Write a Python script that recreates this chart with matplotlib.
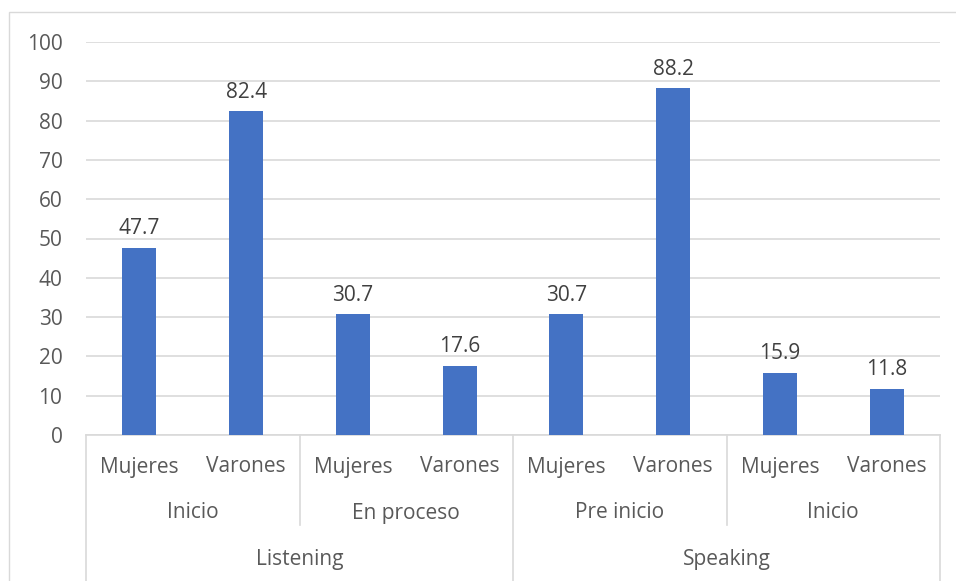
import matplotlib
matplotlib.use("Agg")
import matplotlib.pyplot as plt
from matplotlib.transforms import blended_transform_factory
from matplotlib.patches import Rectangle

genders = ["Mujeres", "Varones", "Mujeres", "Varones", "Mujeres", "Varones", "Mujeres", "Varones"]
levels = ["Inicio", "En proceso", "Pre inicio", "Inicio"]
skills = ["Listening", "Speaking"]
values = [47.7, 82.4, 30.7, 17.6, 30.7, 88.2, 15.9, 11.8]
yticks = [0, 10, 20, 30, 40, 50, 60, 70, 80, 90, 100]

plt.rcParams['font.family'] = ['Open Sans', 'DejaVu Sans']
W, H = 956, 581
fig = plt.figure(figsize=(W / 100, H / 100), dpi=100)
txt = "#595959"
grid = "#d9d9d9"
fs = 15

# outer chart border
fig.patches.append(Rectangle((9 / W, -0.01), 1.0, 1 - 12 / H + 0.01, transform=fig.transFigure,
                             fill=False, edgecolor=grid, linewidth=1.0))

left, right, top, bottom = 86, 940, 42, 435
ax = fig.add_axes([left / W, 1 - bottom / H, (right - left) / W, (bottom - top) / H])
x = list(range(len(values)))
ax.bar(x, values, width=0.32, color="#4472C4", zorder=3)
for xi, v in zip(x, values):
    ax.annotate(f"{v:.1f}", (xi, v), xytext=(0, 6), textcoords="offset points",
                ha="center", va="bottom", fontsize=fs, color="#404040")

ax.set_xlim(-0.5, len(values) - 0.5)
ax.set_ylim(0, 100)
ax.set_yticks(yticks)
ax.tick_params(axis="y", length=0, pad=17, labelsize=fs, labelcolor=txt)
ax.set_xticks([])
ax.yaxis.grid(True, color=grid, linewidth=1.2, zorder=0)
for s in ["top", "right", "left"]:
    ax.spines[s].set_visible(False)
ax.spines["bottom"].set_color(grid)
ax.spines["bottom"].set_linewidth(1.2)

tr = blended_transform_factory(ax.transData, ax.transAxes)
ph = bottom - top
y_mid = -(525 - bottom) / ph
y_bot = -(590 - bottom) / ph
n = len(values)
# separators
for i, bx in enumerate([-0.5 + 2 * k for k in range(n // 2 + 1)]):
    full = (i % 2 == 0)
    ax.plot([bx, bx], [0, y_bot if full else y_mid], transform=tr, color=grid,
            linewidth=1.2, clip_on=False)

y0 = -(467 - bottom) / ph
y1 = -(513 - bottom) / ph
y2 = -(560 - bottom) / ph
for xi, g in zip(x, genders):
    ax.text(xi, y0, g, transform=tr, ha="center", va="center", fontsize=fs, color=txt)
for k, lv in enumerate(levels):
    ax.text(2 * k + 0.5, y1, lv, transform=tr, ha="center", va="center", fontsize=fs, color=txt)
for k, sk in enumerate(skills):
    ax.text(4 * k + 1.5, y2, sk, transform=tr, ha="center", va="center", fontsize=fs, color=txt)

fig.savefig("out.png", dpi=100)
